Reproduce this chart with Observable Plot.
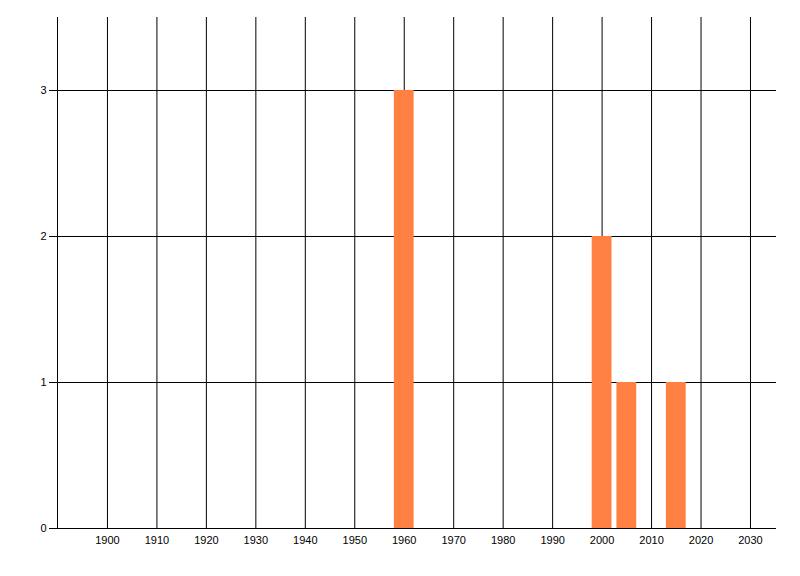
<!DOCTYPE html>
<html>
<head>
<meta charset="utf-8">
<script src="https://cdn.jsdelivr.net/npm/d3@7"></script>
<script src="https://cdn.jsdelivr.net/npm/@observablehq/plot@0.6"></script>
<style>
  html, body { margin: 0; padding: 0; background: white; }
</style>
</head>
<body>
<div id="chart"></div>
<script>
const years = [1960, 2000, 2005, 2015];
const counts = [3, 2, 1, 1];
const xTicks = [1900, 1910, 1920, 1930, 1940, 1950, 1960, 1970, 1980, 1990, 2000, 2010, 2020, 2030];
const yTicks = [0, 1, 2, 3];
const xDomain = [1889.9, 2035.26];
const yDomain = [0, 3.5];
const barHalfWidth = 2;

const data = years.map((y, i) => ({year: y, count: counts[i]}));

const chart = Plot.plot({
  width: 800,
  height: 576,
  marginLeft: 57,
  marginRight: 24,
  marginTop: 17,
  marginBottom: 48,
  style: {fontFamily: "Liberation Sans, Arial, sans-serif", fontSize: "11px", color: "black", background: "white"},
  x: {domain: xDomain},
  y: {domain: yDomain},
  marks: [
    Plot.ruleX(xTicks, {stroke: "black", strokeWidth: 1}),
    Plot.ruleX([xDomain[0]], {stroke: "black", strokeWidth: 1}),
    Plot.ruleY(yTicks.slice(1), {x1: xDomain[0], x2: xDomain[1], stroke: "black"}),
    Plot.rectY(data, {x1: d => d.year - barHalfWidth, x2: d => d.year + barHalfWidth, y: "count", fill: "#FF8040"}),
    Plot.ruleY([0], {x1: xDomain[0], x2: xDomain[1], stroke: "black"}),
    Plot.axisX({ticks: xTicks, tickSize: 0, tickPadding: 8, tickFormat: d => String(d), label: null}),
    Plot.axisY({ticks: yTicks, tickSize: 8, tickPadding: 3, tickFormat: d => String(d), label: null})
  ]
});
document.getElementById("chart").appendChild(chart);
</script>
</body>
</html>
